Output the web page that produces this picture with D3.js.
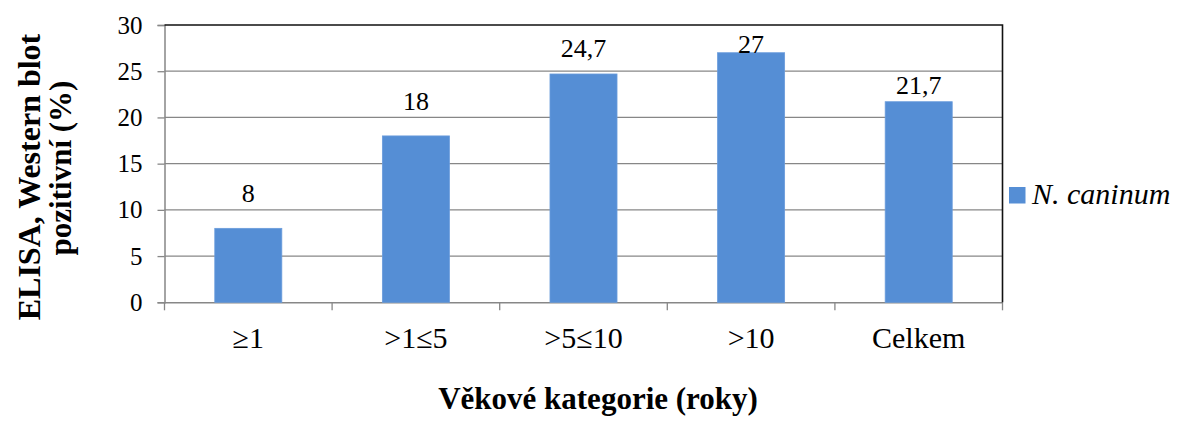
<!DOCTYPE html>
<html>
<head>
<meta charset="utf-8">
<script src="https://cdn.jsdelivr.net/npm/d3@7"></script>
<style>
  html, body { margin: 0; padding: 0; background: #fff; }
  svg { display: block; }
  svg text { font-family: "Liberation Serif", "Times New Roman", Times, serif !important; fill: #000; }
</style>
</head>
<body>
<svg id="chart" width="1182" height="423" font-family="Liberation Serif, serif"></svg>
<script>
// Age categories and share of positive samples (%)
const categories = ["\u22651", ">1\u22645", ">5\u226410", ">10", "Celkem"];
const positive = [8, 18, 24.7, 27, 21.7];
const valueLabels = ["8", "18", "24,7", "27", "21,7"];
const yTicks = [0, 5, 10, 15, 20, 25, 30];
const seriesName = "N. caninum";

// label lift above bar top (px)
const labelLift = [26, 26, 17, 0, 8];

const svg = d3.select("#chart");
const plot = { left: 164.5, right: 1002.5, top: 25, bottom: 302.3 };
const barColor = "#558ED5";
const gridColor = "#878787";

const x = d3.scaleBand().domain(categories).range([plot.left, plot.right]).padding(0);
const y = d3.scaleLinear().domain([0, 30]).range([plot.bottom, plot.top]);

// gridlines
svg.append("g").selectAll("line").data(yTicks.filter(d => d > 0 && d < 30)).join("line")
  .attr("x1", plot.left).attr("x2", plot.right)
  .attr("y1", d => y(d)).attr("y2", d => y(d))
  .attr("stroke", gridColor).attr("stroke-width", 1.3);

// y axis
const yAxis = svg.append("g").attr("transform", `translate(${plot.left},0)`)
  .call(d3.axisLeft(y).tickValues(yTicks).tickSize(7).tickPadding(15))
  .attr("font-family", null).attr("font-size", null);
yAxis.select(".domain").attr("stroke", gridColor).attr("stroke-width", 1.5);
yAxis.selectAll(".tick line").attr("stroke", gridColor).attr("stroke-width", 1.3);
yAxis.selectAll(".tick text").style("font-size", "25px").attr("fill", "#000");

// x axis
const xAxis = svg.append("g").attr("transform", `translate(0,${plot.bottom})`)
  .call(d3.axisBottom(x).tickSize(0).tickPadding(24))
  .attr("font-family", null).attr("font-size", null);
xAxis.select(".domain").attr("stroke", gridColor).attr("stroke-width", 1.5);
xAxis.selectAll(".tick text").style("font-size", "30px").attr("fill", "#000");
// category boundary ticks
const bounds = categories.map(c => x(c)).concat([plot.right]);
svg.append("g").selectAll("line").data(bounds).join("line")
  .attr("x1", d => d).attr("x2", d => d)
  .attr("y1", plot.bottom).attr("y2", plot.bottom + 8)
  .attr("stroke", gridColor).attr("stroke-width", 1.3);

// top and right frame
svg.append("path")
  .attr("d", `M${plot.left},${plot.top}H${plot.right}V${plot.bottom}`)
  .attr("fill", "none").attr("stroke", "#111").attr("stroke-width", 1.6);

// bars
const barW = x.bandwidth() * 0.4;
svg.append("g").selectAll("rect").data(positive).join("rect")
  .attr("x", (d, i) => x(categories[i]) + (x.bandwidth() - barW) / 2)
  .attr("width", barW)
  .attr("y", d => y(d))
  .attr("height", d => y(0) - y(d))
  .attr("fill", barColor)
  .attr("stroke", "#6A9CDC").attr("stroke-width", 0.8);

// value labels
svg.append("g").selectAll("text").data(positive).join("text")
  .attr("x", (d, i) => x(categories[i]) + x.bandwidth() / 2)
  .attr("y", (d, i) => y(d) - labelLift[i])
  .attr("text-anchor", "middle")
  .style("font-size", "26px")
  .text((d, i) => valueLabels[i]);

// legend
const lg = svg.append("g").attr("transform", "translate(1009,187)");
lg.append("rect").attr("width", 16.5).attr("height", 16.5).attr("fill", barColor);
lg.append("text").attr("x", 23).attr("y", 16.5)
  .style("font-size", "30px").style("font-style", "italic")
  .text(seriesName);

// axis titles
svg.append("text")
  .attr("x", 598).attr("y", 409)
  .attr("text-anchor", "middle")
  .style("font-size", "31px").style("font-weight", "bold")
  .text("V\u011bkov\u00e9 kategorie (roky)");

// two-line vertical title
svg.append("text")
  .attr("transform", "translate(40,177) rotate(-90)")
  .attr("text-anchor", "middle")
  .style("font-size", "32px").style("font-weight", "bold")
  .text("ELISA, Western blot");
svg.append("text")
  .attr("transform", "translate(71,168) rotate(-90)")
  .attr("text-anchor", "middle")
  .style("font-size", "31px").style("font-weight", "bold")
  .text("pozitivn\u00ed (%)");
</script>
</body>
</html>
